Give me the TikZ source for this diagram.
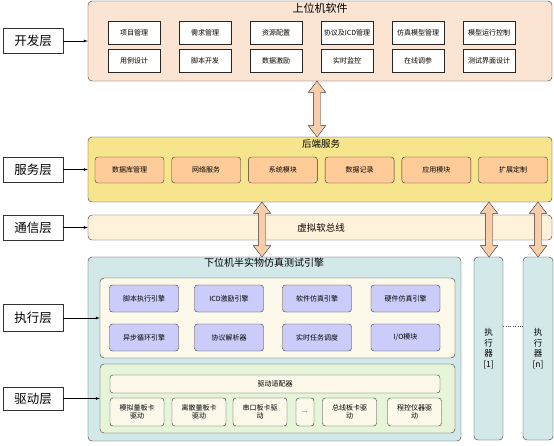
\documentclass[tikz,border=0pt]{standalone}
\usepackage{fontspec}
\setmainfont{Noto Sans CJK SC}
\usetikzlibrary{shapes.arrows}

\definecolor{devfill}{HTML}{FCE4D2}
\definecolor{srvfill}{HTML}{F6E58D}
\definecolor{srvin}{HTML}{FFCC99}
\definecolor{busfill}{HTML}{FFF2DB}
\definecolor{lowfill}{HTML}{D3E9E9}
\definecolor{creamfill}{HTML}{FCF8EA}
\definecolor{exein}{HTML}{CCCCFA}
\definecolor{drvfill}{HTML}{E6F4D9}
\definecolor{arrowfill}{HTML}{F8CDAA}

\begin{document}
\begin{tikzpicture}[x=1pt,y=-1pt,
		layer/.style={draw=black!80,fill=white,minimum width=60pt,minimum height=25pt,inner sep=0pt,font=\fontsize{12.5}{14}\selectfont},
		panel/.style={draw=black!80,rounded corners=4pt,inner sep=0pt},
		devbox/.style={draw=black!85,line width=0.9pt,fill=white,minimum width=52pt,minimum height=23pt,inner sep=0pt,font=\fontsize{7}{8}\selectfont},
		srvbox/.style={draw=black!80,rounded corners=3pt,fill=srvin,minimum width=69pt,minimum height=26pt,inner sep=0pt,font=\fontsize{7}{8}\selectfont},
		exebox/.style={draw=black!80,rounded corners=3pt,fill=exein,minimum width=69pt,minimum height=27pt,inner sep=0pt,font=\fontsize{7}{8}\selectfont},
		drvbox/.style={draw=black!80,rounded corners=3pt,fill=creamfill,minimum width=54pt,minimum height=28pt,inner sep=0pt,align=center,font=\fontsize{7}{8.5}\selectfont},
		dblarrow/.style={double arrow,draw=black!80,fill=arrowfill,minimum width=17pt,double arrow head extend=5pt,double arrow tip angle=75,inner xsep=0pt,inner ysep=3.5pt,rotate=90},
		>=latex]
	\useasboundingbox (0,0) rectangle (554,445);
	%% layer labels
	\node[layer] (ldev) at (33,41) {开发层};
	\node[layer] (lsrv) at (33,169.5) {服务层};
	\node[layer] (lbus) at (33,227.5) {通信层};
	\node[layer,minimum height=27pt] (lexe) at (33,318) {执行层};
	\node[layer,minimum height=23pt] (ldrv) at (33,398.5) {驱动层};
	%% upper computer software
	\node[panel,fill=devfill,minimum width=464pt,minimum height=80pt] (dev) at (320,41) {};
	\node[font=\fontsize{11}{12}\selectfont] (devtitle) at (320,8) {上位机软件};
	\foreach \lbl [count=\i] in {项目管理,需求管理,资源配置,协议及ICD管理,仿真模型管理,模型运行控制}
		\node[devbox] (da\i) at ({63+71*\i},32.5) {\lbl};
	\foreach \lbl [count=\i] in {用例设计,脚本开发,数据激励,实时监控,在线调参,测试界面设计}
		\node[devbox] (db\i) at ({63+71*\i},61) {\lbl};
	%% backend services
	\node[panel,fill=srvfill,minimum width=464pt,minimum height=65pt] (srv) at (320,169.5) {};
	\node[font=\fontsize{9.5}{11}\selectfont] (srvtitle) at (321,144) {后端服务};
	\foreach \lbl [count=\i] in {数据库管理,网络服务,系统模块,数据记录,应用模块,扩展定制}
		\node[srvbox] (s\i) at ({52.8+76.7*\i},170) {\lbl};
	%% virtual soft bus
	\node[panel,fill=busfill,minimum width=464pt,minimum height=25pt] (bus) at (320,227.5) {};
	\node[font=\fontsize{9.5}{11}\selectfont] (bustitle) at (321,227.5) {虚拟软总线};
	%% lower computer engine
	\node[panel,fill=lowfill,minimum width=373pt,minimum height=184pt] (low) at (274.5,349) {};
	\node[font=\fontsize{10}{11}\selectfont] (lowtitle) at (264,262.5) {下位机半实物仿真测试引擎};
	\node[panel,fill=creamfill,minimum width=355pt,minimum height=80pt] (exe) at (277.5,318) {};
	\foreach \x/\lbl in {144/脚本执行引擎,229/ICD激励引擎,317/软件仿真引擎,405.5/硬件仿真引擎}
		\node[exebox] (ea\x) at (\x,298.5) {\lbl};
	\foreach \x/\lbl in {144/异步循环引擎,229/协议解析器,317/实时任务调度,405.5/{I/O模块}}
		\node[exebox] (eb\x) at (\x,337.5) {\lbl};
	\node[panel,fill=drvfill,minimum width=355pt,minimum height=69pt] (drv) at (277.5,398.5) {};
	\node[drvbox,minimum width=330pt,minimum height=18pt] (adapt) at (275,384) {驱动适配器};
	\node[drvbox] (dr1) at (137,412) {模拟量板卡\\驱动};
	\node[drvbox] (dr2) at (199,412) {离散量板卡\\驱动};
	\node[drvbox] (dr3) at (260,412) {串口板卡驱\\动};
	\node[drvbox,minimum width=18pt] (dr4) at (305,412) {...};
	\node[drvbox] (dr5) at (349.5,412) {总线板卡驱\\动};
	\node[drvbox] (dr6) at (414.5,412) {程控仪器驱\\动};
	%% executors
	\node[panel,fill=lowfill,minimum width=29pt,minimum height=183pt,align=center,font=\fontsize{8.5}{10.5}\selectfont] (ex1) at (488.5,348.5) {执\\行\\器\\{[1]}};
	\node[panel,fill=lowfill,minimum width=30pt,minimum height=183pt,align=center,font=\fontsize{8.5}{10.5}\selectfont] (exn) at (538,348.5) {执\\行\\器\\{[n]}};
	\draw[dotted,black!70] (ex1.east |- 0,326) -- (exn.west |- 0,326);
	%% layer arrows
	\draw[->] (ldev) -- (dev);
	\draw[->] (lsrv) -- (srv);
	\draw[->] (lbus) -- (bus);
	\draw[->] (lexe) -- (exe);
	\draw[->] (ldrv) -- (drv);
	%% double arrows
	\node[dblarrow,minimum height=56pt] (ar1) at (317,109) {};
	\node[dblarrow,minimum height=55pt] (ar2) at (262,229.5) {};
	\node[dblarrow,minimum height=55pt] (ar3) at (489,229.5) {};
	\node[dblarrow,minimum height=55pt] (ar4) at (538,229.5) {};
\end{tikzpicture}
\end{document}
